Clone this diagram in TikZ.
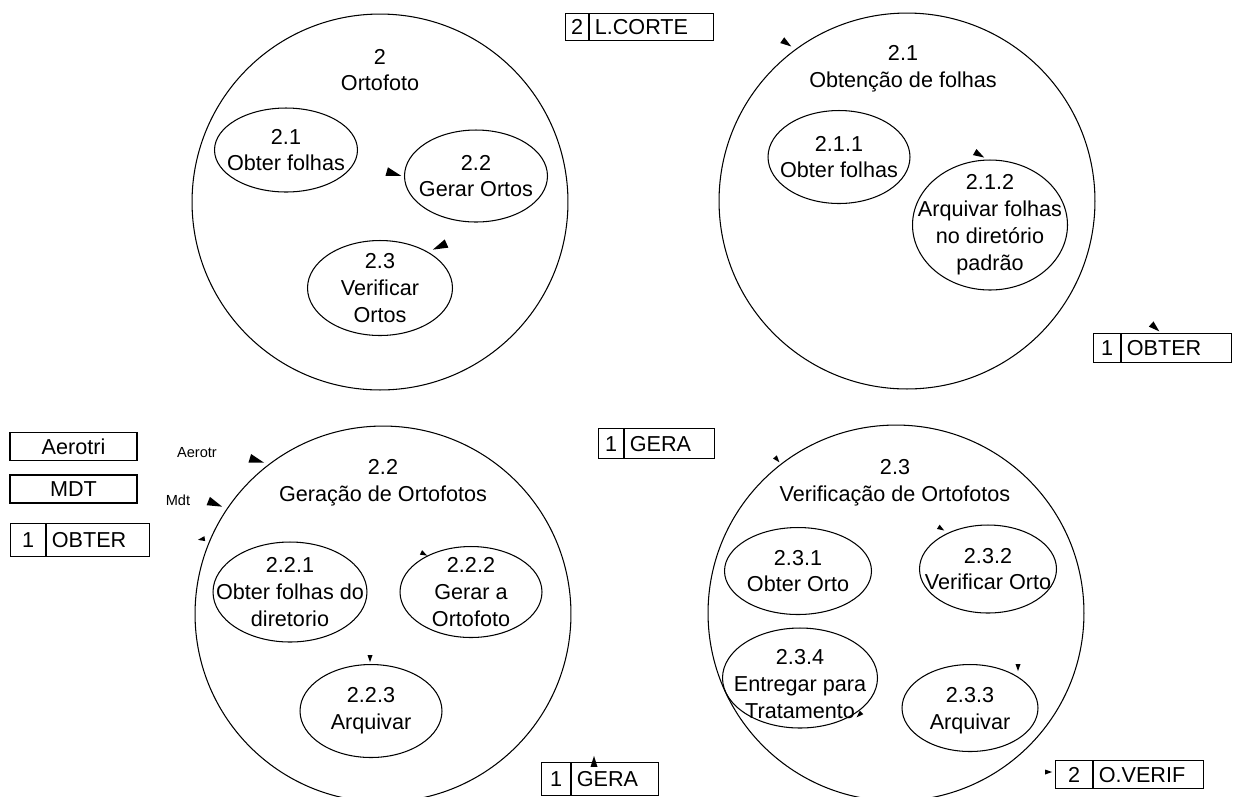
\documentclass[tikz,border=0pt]{standalone}
\usepackage{fontspec}
\setmainfont{Liberation Sans}
\usetikzlibrary{shapes.geometric,positioning}

\begin{document}
\begin{tikzpicture}[x=0.02cm, y=-0.02cm, every node/.style={font=\fontsize{12.3}{15.3}\selectfont}]
	% Styles
	\tikzstyle{bubble} = [circle, draw=black, line width=0.6pt, minimum size=7.52cm, inner sep=0pt]
	\tikzstyle{proc} = [ellipse, draw=black, line width=0.6pt, inner sep=0pt]
	\tikzstyle{ptext} = [align=center, inner sep=0pt]
	\tikzstyle{storeid} = [draw=black, line width=0.7pt, minimum height=0.56cm, inner sep=0pt, anchor=north west]
	\tikzstyle{storename} = [draw=black, line width=0.7pt, minimum height=0.56cm, inner xsep=0.1cm, inner ysep=0pt, align=left]
	\tikzstyle{extbox} = [draw=black, line width=0.7pt, minimum width=2.54cm, minimum height=0.55cm, inner sep=0pt]
	\tikzstyle{flowlabel} = [inner sep=0pt, font=\fontsize{8.3}{10}\selectfont]
	\tikzstyle{bighead} = [isosceles triangle, isosceles triangle stretches, fill=black, inner sep=0pt, minimum width=0.18cm, minimum height=0.3cm, anchor=apex]
	\tikzstyle{midhead} = [isosceles triangle, isosceles triangle stretches, fill=black, inner sep=0pt, minimum width=0.14cm, minimum height=0.22cm, anchor=apex]
	\tikzstyle{smallhead} = [isosceles triangle, isosceles triangle stretches, fill=black, inner sep=0pt, minimum width=0.1cm, minimum height=0.14cm, anchor=apex]

	\useasboundingbox (0,0) rectangle (1234,796);

	% 2 Ortofoto
	\node[bubble] (orto) at (380,202) {};
	\node[ptext] (ortot) at (380,70) {2\\Ortofoto};
	\node[proc, minimum width=2.86cm, minimum height=1.68cm] (p21) at (286,150) {};
	\node[ptext] at (p21) {2.1\\Obter folhas};
	\node[proc, minimum width=2.86cm, minimum height=1.84cm] (p22) at (476,176) {};
	\node[ptext] at (p22) {2.2\\Gerar Ortos};
	\node[proc, minimum width=2.9cm, minimum height=1.9cm] (p23) at (380,288) {};
	\node[ptext] at (p23) {2.3\\Verificar\\Ortos};

	% 2.1 Obtencao de folhas
	\node[bubble] (obt) at (907,201) {};
	\node[ptext] (obtt) at (903,69) {2.1\\Obtenção de folhas};
	\node[proc, minimum width=2.84cm, minimum height=1.86cm] (p211) at (839,157) {};
	\node[ptext] at (p211) {2.1.1\\Obter folhas};
	\node[proc, minimum width=3.1cm, minimum height=2.6cm] (p212) at (990,225) {};
	\node[ptext] at (p212) {2.1.2\\Arquivar folhas\\no diretório\\padrão};

	% 2.2 Geracao de Ortofotos
	\node[bubble] (ger) at (383,614) {};
	\node[ptext] (gert) at (383,483) {2.2\\Geração de Ortofotos};
	\node[proc, minimum width=3.08cm, minimum height=2cm] (p221) at (290,592) {};
	\node[ptext] at (p221) {2.2.1\\Obter folhas do\\diretorio};
	\node[proc, minimum width=2.84cm, minimum height=1.82cm] (p222) at (471,592) {};
	\node[ptext] at (p222) {2.2.2\\Gerar a\\Ortofoto};
	\node[proc, minimum width=2.84cm, minimum height=1.86cm] (p223) at (371,711) {};
	\node[ptext] at (p223) {2.2.3\\Arquivar};

	% 2.3 Verificacao de Ortofotos
	\node[bubble] (ver) at (896,613) {};
	\node[ptext] (vert) at (895,483) {2.3\\Verificação de Ortofotos};
	\node[proc, minimum width=2.94cm, minimum height=1.74cm] (p231) at (798,571) {};
	\node[ptext] at (p231) {2.3.1\\Obter Orto};
	\node[proc, minimum width=2.74cm, minimum height=1.76cm] (p232) at (988,569) {};
	\node[ptext] at (p232) {2.3.2\\Verificar Orto};
	\node[proc, minimum width=3.1cm, minimum height=2cm] (p234) at (800,678) {};
	\node[ptext] at (800,684) {2.3.4\\Entregar para\\Tratamento};
	\node[proc, minimum width=2.72cm, minimum height=1.74cm] (p233) at (970,708) {};
	\node[ptext] at (970,711) {2.3.3\\Arquivar};

	% Stores
	\node[storeid, minimum width=0.46cm, minimum height=0.54cm] (lcorteid) at (565,13) {2};
	\node[storename, text width=2.28cm, minimum height=0.54cm, right=0pt of lcorteid] (lcorte) {L.CORTE};
	\node[storeid, minimum width=0.54cm, minimum height=0.58cm] (obterid) at (1093,333) {1};
	\node[storename, text width=2cm, minimum height=0.58cm, right=0pt of obterid] (obter) {OBTER};
	\node[storeid, minimum width=0.7cm, minimum height=0.66cm] (obterlid) at (10,523) {1};
	\node[storename, text width=1.86cm, minimum height=0.66cm, right=0pt of obterlid] (obterl) {OBTER};
	\node[storeid, minimum width=0.5cm, minimum height=0.6cm] (geraid) at (598,428) {1};
	\node[storename, text width=1.6cm, minimum height=0.6cm, right=0pt of geraid] (gera) {GERA};
	\node[storeid, minimum width=0.58cm, minimum height=0.66cm] (gerabid) at (541,762) {1};
	\node[storename, text width=1.54cm, minimum height=0.66cm, right=0pt of gerabid] (gerab) {GERA};
	\node[storeid, minimum width=0.74cm, minimum height=0.56cm] (verifid) at (1055,760) {2};
	\node[storename, text width=2cm, minimum height=0.56cm, right=0pt of verifid] (verif) {O.VERIF};

	% External entities
	\node[extbox] (aerotri) at (73.5,446.5) {Aerotri};
	\node[extbox, minimum height=0.56cm] (mdt) at (73.5,489) {MDT};
	\node[flowlabel] (aerol) at (197,453) {Aerotr};
	\node[flowlabel] (mdtl) at (178,500) {Mdt};

	% Arrow heads
	\node[bighead, rotate=-16] (h1) at (402,176) {};
	\node[bighead, rotate=-156] (h2) at (432,250) {};
	\node[midhead, rotate=-35] (h3) at (792,47) {};
	\node[midhead, rotate=-30] (h4) at (985,158) {};
	\node[midhead, rotate=-42] (h5) at (1160,332) {};
	\node[bighead, rotate=-17] (h6) at (265,463) {};
	\node[bighead, rotate=-22] (h7) at (223,507) {};
	\node[smallhead, rotate=190] (h8) at (197,540) {};
	\node[smallhead, rotate=-27] (h9) at (428,556) {};
	\node[smallhead, rotate=-90] (h10) at (370,663) {};
	\node[midhead, rotate=90] (h11) at (594,755) {};
	\node[smallhead, rotate=-50] (h12) at (780,463) {};
	\node[smallhead, rotate=-32] (h13) at (945,531) {};
	\node[smallhead, rotate=-90] (h14) at (1018,672) {};
	\node[smallhead, rotate=-135] (h15) at (856,718) {};
	\node[smallhead, rotate=0] (h16) at (1053,772) {};

\end{tikzpicture}
\end{document}
